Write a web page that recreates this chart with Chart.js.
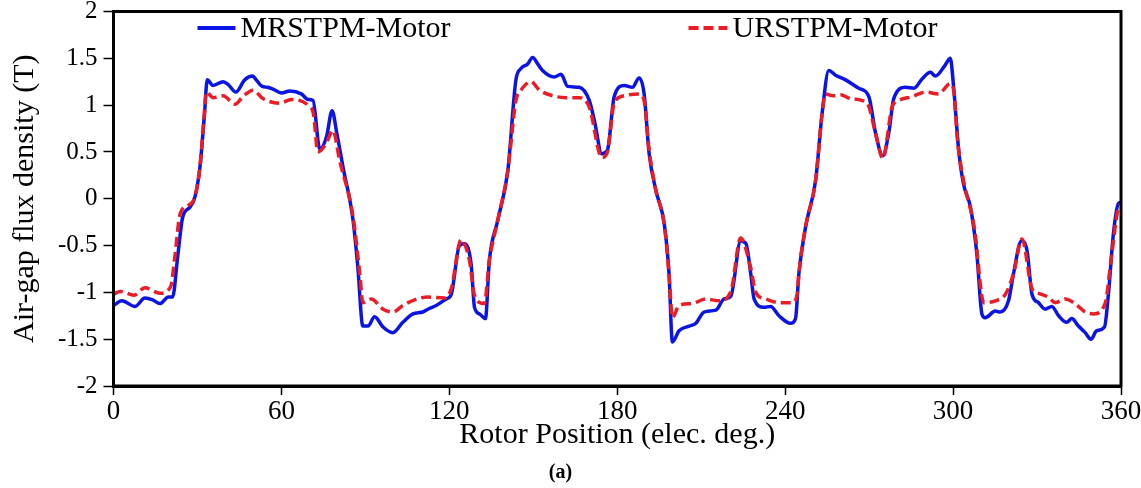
<!DOCTYPE html>
<html>
<head>
<meta charset="utf-8">
<script src="https://cdn.jsdelivr.net/npm/chart.js@4.4.1/dist/chart.umd.min.js"></script>
<style>
  html, body { margin: 0; padding: 0; background: #fff; }
  #wrap { width: 1141px; height: 488px; position: relative; }
</style>
</head>
<body>
<div id="wrap"><canvas id="c" width="1141" height="488"></canvas></div>
<script>
// ---- data ----
const seriesNames = ['MRSTPM-Motor', 'URSTPM-Motor'];
const xTicks = [0, 60, 120, 180, 240, 300, 360];
const yTicks = [-2, -1.5, -1, -0.5, 0, 0.5, 1, 1.5, 2];

const mrsX = [0, 3, 7.7, 11.2, 14, 16.6, 19.6, 21.1, 23, 24.7, 27.3, 29.1, 30.9, 32.5, 33.5, 35.6, 39.2, 41, 43.7, 46.9, 49.7, 51, 53.1, 55, 57, 60, 63, 67.1, 69.5, 71.3, 73.7, 76.1, 78.1, 79.8, 82, 85.6, 87.3, 89.1, 90.9, 93.3, 96.3, 99.8, 103.4, 107, 110.5, 113, 115.3, 118.9, 120.7, 123.6, 125.4, 127.8, 129, 130.8, 132.9, 134.3, 137.3, 140.9, 143.8, 145.6, 148, 149.8, 151.6, 153.3, 157.5, 159.9, 162.3, 166.4, 170, 171.8, 174.5, 176.5, 178.9, 182.5, 185.4, 187.8, 189.6, 191.4, 193.8, 196.8, 198.5, 199.7, 202.1, 205.7, 208.1, 211, 215.2, 218.2, 220.6, 224.1, 226, 227.7, 228.9, 232.4, 234.8, 237.8, 241.9, 243.7, 244.9, 247.3, 250.9, 253.2, 255.6, 258, 261.6, 266.3, 269.9, 272.3, 274.9, 277, 278.8, 283, 286, 288.9, 291.9, 293.7, 297, 299, 300.2, 302, 303.7, 306.2, 308.5, 310.3, 311.5, 315.1, 316.8, 319.8, 321.6, 324.4, 326.4, 328.2, 330.5, 332.9, 335.3, 337.7, 340.6, 342.4, 344.8, 347.2, 349.3, 351.3, 354.1, 355.5, 357.3, 359.1, 360];
const mrsY = [-1.14, -1.09, -1.15, -1.06, -1.08, -1.12, -1.05, -1.05, -0.6, -0.20, -0.09, 0.02, 0.34, 0.9, 1.27, 1.21, 1.25, 1.22, 1.14, 1.27, 1.31, 1.27, 1.20, 1.19, 1.17, 1.13, 1.15, 1.12, 1.06, 1.05, 0.53, 0.66, 0.94, 0.70, 0.34, -0.23, -0.73, -1.36, -1.36, -1.26, -1.37, -1.43, -1.32, -1.23, -1.21, -1.17, -1.14, -1.07, -1.02, -0.50, -0.48, -0.70, -1.16, -1.23, -1.28, -0.66, -0.23, 0.30, 1.27, 1.39, 1.44, 1.51, 1.44, 1.37, 1.30, 1.33, 1.20, 1.19, 1.05, 0.84, 0.48, 0.52, 1.09, 1.21, 1.19, 1.29, 1.12, 0.48, 0.09, -0.27, -0.80, -1.53, -1.41, -1.36, -1.33, -1.21, -1.19, -1.07, -1.04, -0.45, -0.48, -0.80, -1.07, -1.16, -1.15, -1.25, -1.33, -1.28, -0.80, -0.30, 0.20, 0.91, 1.37, 1.32, 1.27, 1.18, 1.09, 0.70, 0.46, 0.70, 1.07, 1.19, 1.18, 1.28, 1.35, 1.31, 1.42, 1.50, 1.19, 0.52, 0.16, -0.09, -0.59, -1.23, -1.27, -1.20, -1.21, -1.09, -0.80, -0.45, -0.55, -1.02, -1.11, -1.18, -1.15, -1.25, -1.32, -1.28, -1.36, -1.43, -1.50, -1.41, -1.37, -1.02, -0.37, -0.05, -0.04];

const ursX = [0, 2.4, 7.4, 11.2, 16.6, 20.4, 22, 23.8, 27.3, 29.1, 30.9, 32.3, 33.2, 35.6, 39.2, 43.4, 46.5, 49.9, 53.4, 59.4, 63.5, 69.8, 71.5, 73, 76, 78.4, 80.8, 85.6, 88, 89.1, 92.1, 96.3, 99.8, 103.4, 107.6, 112.3, 118.3, 120.7, 124.2, 127.2, 129, 132.5, 134.3, 137.3, 140.9, 143.8, 145.6, 149.2, 152.2, 156.9, 161.7, 166.4, 170, 174.5, 176.5, 178.9, 182.5, 187.8, 189.6, 191.4, 193.8, 196.8, 198.5, 199.7, 202.1, 206.9, 211.6, 216.4, 220.6, 224.1, 227.7, 229.5, 233, 237.8, 242.5, 244.3, 244.9, 247.3, 250.9, 253.2, 254.4, 257, 259.8, 263.4, 269.3, 272.3, 274.9, 278.2, 280.6, 285.3, 290.1, 294.8, 299, 300.2, 301.6, 303.7, 307.6, 311, 315.1, 318.7, 321.6, 324.6, 328.2, 330.5, 334, 336.5, 340.1, 343.6, 347.2, 350.2, 354.3, 356.7, 359.1, 360];
const ursY = [-1.02, -0.99, -1.03, -0.95, -1.01, -0.94, -0.6, -0.16, -0.06, 0.02, 0.34, 0.85, 1.14, 1.08, 1.10, 1.01, 1.10, 1.16, 1.07, 1.02, 1.06, 0.99, 0.9, 0.50, 0.59, 0.73, 0.41, -0.19, -0.80, -1.11, -1.07, -1.18, -1.21, -1.14, -1.08, -1.05, -1.06, -0.96, -0.44, -0.66, -1.03, -1.12, -0.66, -0.23, 0.30, 1.05, 1.16, 1.25, 1.16, 1.10, 1.08, 1.08, 0.98, 0.44, 0.50, 1.02, 1.10, 1.12, 1.05, 0.52, 0.09, -0.27, -0.80, -1.27, -1.14, -1.12, -1.07, -1.09, -0.99, -0.42, -0.74, -1.00, -1.07, -1.11, -1.11, -1.02, -0.80, -0.30, 0.20, 0.91, 1.12, 1.10, 1.11, 1.07, 1.02, 0.70, 0.43, 0.98, 1.05, 1.09, 1.14, 1.12, 1.23, 1.16, 0.62, 0.20, -0.31, -1.11, -1.09, -1.02, -0.80, -0.43, -0.96, -1.01, -1.05, -1.11, -1.07, -1.12, -1.21, -1.23, -1.12, -0.59, -0.09, -0.06];

const toPts = (xs, ys) => xs.map((x, i) => ({ x: x, y: ys[i] }));

const SERIF = "'Liberation Serif', 'Times New Roman', serif";
const BLUE = '#0b14e6';
const RED = '#ec1c24';

// legend drawn inside the plot box
const insideLegend = {
  id: 'insideLegend',
  afterDraw(chart) {
    const ctx = chart.ctx;
    const a = chart.chartArea;
    const ds = chart.data.datasets;
    const y = a.top + 16.5;
    const items = [
      { ds: ds[0], x0: a.left + 84, x1: a.left + 122, tx: a.left + 127 },
      { ds: ds[1], x0: a.left + 575, x1: a.left + 614, tx: a.left + 619 }
    ];
    ctx.save();
    items.forEach(it => {
      ctx.beginPath();
      ctx.strokeStyle = it.ds.borderColor;
      ctx.lineWidth = 4;
      ctx.setLineDash(it.ds.borderDash || []);
      ctx.moveTo(it.x0, y);
      ctx.lineTo(it.x1, y);
      ctx.stroke();
      ctx.setLineDash([]);
      ctx.fillStyle = '#000';
      ctx.font = '30px ' + SERIF;
      ctx.textBaseline = 'alphabetic';
      ctx.textAlign = 'left';
      ctx.fillText(it.ds.label, it.tx, y + 8.5);
    });
    ctx.restore();
  }
};

// full frame around the plot
const frame = {
  id: 'frame',
  afterDatasetsDraw(chart) {
    const ctx = chart.ctx;
    const a = chart.chartArea;
    ctx.save();
    ctx.strokeStyle = '#000';
    ctx.lineWidth = 3;
    ctx.strokeRect(a.left, a.top, a.right - a.left, a.bottom - a.top);
    ctx.restore();
  }
};

new Chart(document.getElementById('c'), {
  type: 'line',
  data: {
    datasets: [
      {
        label: seriesNames[0],
        data: toPts(mrsX, mrsY),
        borderColor: BLUE,
        borderWidth: 3.5,
        pointRadius: 0,
        cubicInterpolationMode: 'monotone',
        fill: false,
        order: 2
      },
      {
        label: seriesNames[1],
        data: toPts(ursX, ursY),
        borderColor: RED,
        borderWidth: 3.5,
        borderDash: [10, 5],
        pointRadius: 0,
        cubicInterpolationMode: 'monotone',
        fill: false,
        order: 1
      }
    ]
  },
  options: {
    responsive: false,
    animation: false,
    devicePixelRatio: 1,
    layout: { padding: { left: 0, right: 20, top: 11.5, bottom: 0 } },
    plugins: {
      legend: { display: false },
      tooltip: { enabled: false },
      title: {
        display: true,
        text: '(a)',
        position: 'bottom',
        color: '#000',
        font: { family: SERIF, size: 20, weight: 'bold' },
        padding: { top: 0, bottom: 3 }
      }
    },
    scales: {
      x: {
        type: 'linear',
        min: 0,
        max: 360,
        afterBuildTicks: s => { s.ticks = xTicks.map(v => ({ value: v })); },
        afterFit: s => { s.height = 75; s.paddingLeft = 0; s.paddingRight = 0; },
        ticks: {
          color: '#000',
          font: { family: SERIF, size: 27 },
          padding: 1,
          maxRotation: 0,
          autoSkip: false,
          callback: v => String(v)
        },
        grid: {
          display: true,
          drawOnChartArea: false,
          drawTicks: true,
          tickLength: 9,
          tickWidth: 1.5,
          tickColor: '#000'
        },
        border: { display: true, color: '#000', width: 3 },
        title: {
          display: true,
          text: 'Rotor Position (elec. deg.)',
          color: '#000',
          font: { family: SERIF, size: 30 },
          padding: { top: 0, bottom: 8 }
        }
      },
      y: {
        type: 'linear',
        min: -2,
        max: 2,
        afterBuildTicks: s => { s.ticks = yTicks.map(v => ({ value: v })); },
        afterFit: s => { s.width = 113.5; s.paddingTop = 0; s.paddingBottom = 0; },
        ticks: {
          color: '#000',
          font: { family: SERIF, size: 25 },
          padding: 6,
          callback: v => String(v)
        },
        grid: {
          display: true,
          drawOnChartArea: false,
          drawTicks: true,
          tickLength: 10,
          tickWidth: 1.5,
          tickColor: '#000'
        },
        border: { display: true, color: '#000', width: 3 },
        title: {
          display: true,
          text: 'Air-gap flux density (T)',
          color: '#000',
          font: { family: SERIF, size: 30 },
          padding: { top: 7, bottom: 0 }
        }
      }
    }
  },
  plugins: [frame, insideLegend]
});
</script>
</body>
</html>
